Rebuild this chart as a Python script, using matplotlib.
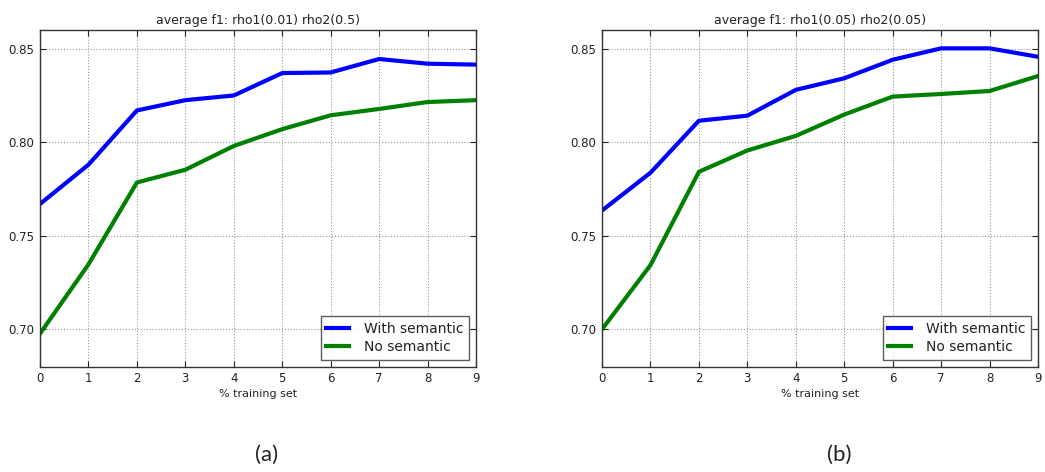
import matplotlib.pyplot as plt

# x axis: % training set
x_vals = list(range(10))

# panel (a): rho1(0.01) rho2(0.5)
with_sem_a = [0.767, 0.788, 0.817, 0.8225, 0.825, 0.837, 0.8373, 0.8445, 0.842, 0.8415]
no_sem_a = [0.6977, 0.7347, 0.7785, 0.7853, 0.798, 0.807, 0.8144, 0.8178, 0.8215, 0.8225]

# panel (b): rho1(0.05) rho2(0.05)
with_sem_b = [0.7635, 0.7837, 0.8115, 0.8142, 0.828, 0.8342, 0.8441, 0.8502, 0.8502, 0.8457]
no_sem_b = [0.700, 0.7343, 0.7842, 0.7956, 0.8034, 0.8148, 0.8244, 0.8258, 0.8274, 0.8354]

titles = ['average f1: rho1(0.01) rho2(0.5)', 'average f1: rho1(0.05) rho2(0.05)']
panel_labels = ['(a)', '(b)']
y_ticks = [0.70, 0.75, 0.80, 0.85]

fig = plt.figure(figsize=(10.45, 4.72), dpi=100)

lefts = [0.0383, 0.5761]
label_x = [0.2555, 0.803]
series = [(with_sem_a, no_sem_a), (with_sem_b, no_sem_b)]

for i in range(2):
    ax = fig.add_axes([lefts[i], 0.2231, 0.4172, 0.7133])
    w, n = series[i]
    ax.plot(x_vals, w, color='#0000ff', lw=3, label='With semantic')
    ax.plot(x_vals, n, color='#008000', lw=3, label='No semantic')

    ax.set_xlim(0, 9)
    ax.set_ylim(0.68, 0.86)
    ax.set_xticks(x_vals)
    ax.set_yticks(y_ticks)
    ax.set_yticklabels(['%.2f' % v for v in y_ticks])
    ax.tick_params(direction='in', top=True, right=True, labelsize=8.5,
                   length=4, colors='#222222', pad=4)
    ax.grid(True, linestyle=':', color='#999999', lw=0.8)
    for s in ax.spines.values():
        s.set_color('#333333')
        s.set_linewidth(1.0)

    ax.set_title(titles[i], fontsize=9, color='#222222', pad=4)
    ax.set_xlabel('% training set', fontsize=8, color='#222222', labelpad=3)

    leg = ax.legend(loc='lower right', fontsize=10, fancybox=False,
                    handlelength=1.6, handletextpad=1.1, borderaxespad=0.5,
                    labelspacing=0.3)
    leg.get_frame().set_edgecolor('#333333')
    leg.get_frame().set_linewidth(1.0)
    for t in leg.get_texts():
        t.set_color('#222222')

    fig.text(label_x[i], 0.036, panel_labels[i], family='Lato',
             fontsize=16, ha='center', va='center', color='#222222')

plt.savefig('out.png', dpi=100)
plt.close()
